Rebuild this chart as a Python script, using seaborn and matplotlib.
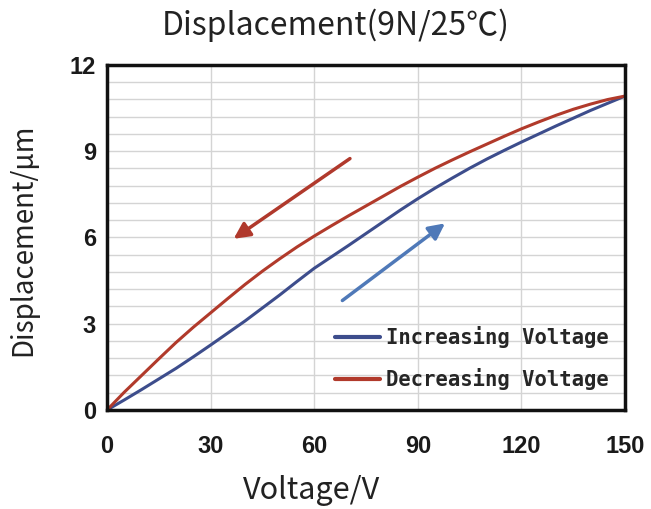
import numpy as np
import pandas as pd
import seaborn as sns
import matplotlib.pyplot as plt
from matplotlib.ticker import MultipleLocator

# values (every 5 V)
voltage = list(range(0, 155, 5))
disp_up = [0, 0.35, 0.71, 1.08, 1.45, 1.85, 2.26, 2.68, 3.1, 3.55, 4.0, 4.47, 4.93,
           5.33, 5.73, 6.14, 6.55, 6.96, 7.35, 7.72, 8.07, 8.41, 8.73, 9.03, 9.32,
           9.6, 9.88, 10.15, 10.42, 10.67, 10.92]
disp_down = [0, 0.62, 1.2, 1.78, 2.35, 2.88, 3.38, 3.88, 4.37, 4.83, 5.26, 5.67, 6.05,
             6.41, 6.76, 7.1, 7.44, 7.78, 8.1, 8.41, 8.7, 8.98, 9.25, 9.52, 9.78,
             10.02, 10.25, 10.46, 10.64, 10.8, 10.92]
series_names = ["Increasing Voltage", "Decreasing Voltage"]
x_ticks = [0, 30, 60, 90, 120, 150]
y_ticks = [0, 3, 6, 9, 12]

colors = {"Increasing Voltage": "#3d4d8c", "Decreasing Voltage": "#b13a2b"}

df = pd.concat([
    pd.DataFrame({"Voltage": voltage, "Displacement": disp_up, "Series": series_names[0]}),
    pd.DataFrame({"Voltage": voltage, "Displacement": disp_down, "Series": series_names[1]}),
], ignore_index=True)

sns.set_theme(style="white")
plt.rcParams['font.family'] = ['Noto Sans CJK SC', 'DejaVu Sans']

fig = plt.figure(figsize=(6.51, 5.09), dpi=100)
ax = fig.add_axes([0.1644, 0.1945, 0.7958, 0.6778])

sns.lineplot(data=df, x="Voltage", y="Displacement", hue="Series",
             palette=colors, linewidth=2.2, ax=ax, sort=False)

ax.set_xlim(0, 150)
ax.set_ylim(0, 12)
ax.set_xticks(x_ticks)
ax.set_yticks(y_ticks)
ax.yaxis.set_minor_locator(MultipleLocator(0.6))
ax.grid(True, which="major", axis="x", color="#d4d4d4", lw=1)
ax.grid(True, which="both", axis="y", color="#d4d4d4", lw=1)
ax.set_axisbelow(True)
ax.tick_params(axis="both", which="both", length=0)
ax.tick_params(axis="x", pad=18)
ax.tick_params(axis="y", pad=8)
for lab in ax.get_xticklabels() + ax.get_yticklabels():
    lab.set_fontfamily("Liberation Sans")
    lab.set_fontweight("bold")
    lab.set_fontsize(17)
    lab.set_color("#1a1a1a")

for sp in ax.spines.values():
    sp.set_color("#111111")
    sp.set_linewidth(2.5)

ax.set_xlabel("")
ax.set_ylabel("")
fig.text(0.479, 0.036, "Voltage/V", ha="center", va="center", fontsize=22, color="#222222")
fig.text(0.036, 0.528, "Displacement/μm", ha="center", va="center", rotation=90,
         fontsize=20, color="#222222")
fig.text(0.516, 0.950, "Displacement(9N/25℃)", ha="center", va="center",
         fontsize=23, color="#222222")

# direction arrows
ax.annotate("", xy=(36, 5.9), xytext=(71, 8.8),
            arrowprops=dict(arrowstyle="-|>,head_length=0.8,head_width=0.4",
                            color="#b0392c", lw=2.5))
ax.annotate("", xy=(98.5, 6.55), xytext=(67.5, 3.75),
            arrowprops=dict(arrowstyle="-|>,head_length=0.8,head_width=0.4",
                            color="#4f79b8", lw=2.5))

leg = ax.legend(loc="lower right", bbox_to_anchor=(1.005, 0.005), frameon=False,
                prop={"family": "DejaVu Sans Mono", "weight": "bold", "size": 14.8},
                handlelength=2.2, handletextpad=0.3, labelspacing=0.95)
for line in leg.get_lines():
    line.set_linewidth(3)

fig.savefig("out.png", dpi=100)
